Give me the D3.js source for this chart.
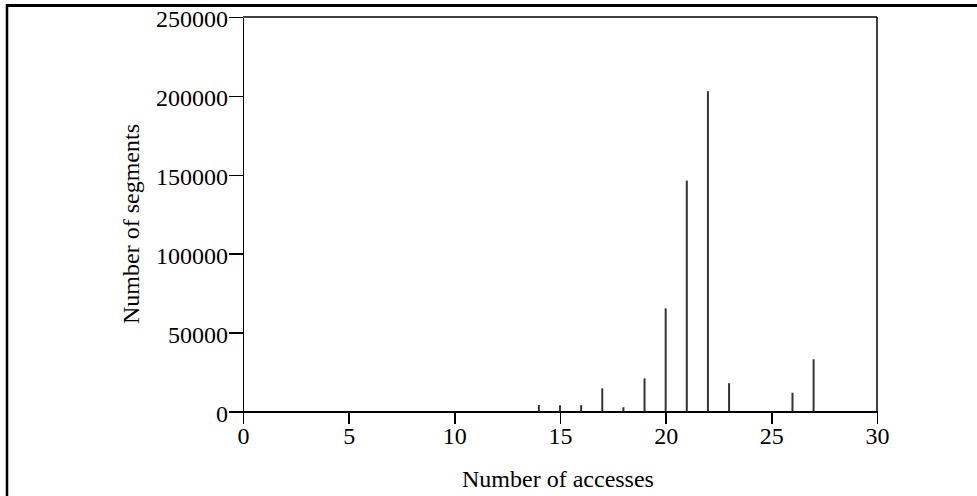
<!DOCTYPE html>
<html>
<head>
<meta charset="utf-8">
<script src="https://cdn.jsdelivr.net/npm/d3@7"></script>
<style>
  body { margin: 0; background: #fff; }
  text { font-family: "Liberation Serif", "Times New Roman", serif; fill: #000; }
  .axis path, .axis line { stroke: #000; stroke-width: 1.5; shape-rendering: crispEdges; }
  .axis text { font-size: 24px; }
  .title { font-size: 24px; }
</style>
</head>
<body>
<div id="graphic"></div>
<script>
// DATA
var accesses = [14, 15, 16, 17, 18, 19, 20, 21, 22, 23, 26, 27];
var segments = [4100, 4000, 4000, 14700, 2700, 21000, 65400, 146300, 202900, 17900, 11900, 33100];
var xTicks = [0, 5, 10, 15, 20, 25, 30];
var yTicks = [0, 50000, 100000, 150000, 200000, 250000];

var data = accesses.map(function (a, i) { return { n: a, count: segments[i] }; });

//SVG margins
var margin = { top: 17, right: 100, bottom: 84.5, left: 243 };
var W = 977, H = 496;
var width = W - margin.left - margin.right,
    height = H - margin.top - margin.bottom;

var root = d3.select("#graphic").append("svg")
    .attr("width", W)
    .attr("height", H);

// outer frame (top + left only)
root.append("line")
    .attr("x1", 6).attr("x2", W)
    .attr("y1", 5.5).attr("y2", 5.5)
    .attr("stroke", "#000").attr("stroke-width", 3);
root.append("line")
    .attr("x1", 7).attr("x2", 7)
    .attr("y1", 4).attr("y2", H)
    .attr("stroke", "#000").attr("stroke-width", 2.5);

var svg = root.append("g")
    .attr("transform", "translate(" + margin.left + "," + margin.top + ")");

// SCALES
var xScale = d3.scaleLinear().domain([0, 30]).range([0, width]);
var yScale = d3.scaleLinear().domain([0, 250000]).range([height, 0]);

// AXIS
svg.append("g")
    .attr("class", "x axis")
    .attr("transform", "translate(0," + height + ")")
    .call(d3.axisBottom(xScale).tickValues(xTicks).tickFormat(d3.format("d"))
        .tickSize(12).tickSizeOuter(0).tickPadding(3))
    .selectAll("text").attr("dy", "0.71em");

svg.append("g")
    .attr("class", "y axis")
    .call(d3.axisLeft(yScale).tickValues(yTicks).tickFormat(d3.format("d"))
        .tickSize(14).tickSizeOuter(0).tickPadding(1))
    .selectAll("text").attr("dy", "0.4em");

// box: top and right
svg.append("line")
    .attr("x1", 0).attr("x2", width).attr("y1", 0).attr("y2", 0)
    .attr("stroke", "#000").attr("stroke-width", 1.5);
svg.append("line")
    .attr("x1", width).attr("x2", width).attr("y1", 0).attr("y2", height)
    .attr("stroke", "#000").attr("stroke-width", 1.5);

// SHOW DATA
svg.selectAll(".bar")
    .data(data)
    .enter()
    .append("line")
    .attr("class", "bar")
    .attr("x1", function (d) { return xScale(d.n); })
    .attr("x2", function (d) { return xScale(d.n); })
    .attr("y1", height)
    .attr("y2", function (d) { return yScale(d.count); })
    .attr("stroke", "#333")
    .attr("stroke-width", 2);

// TITLES
root.append("text")
    .attr("class", "title")
    .attr("x", 558)
    .attr("y", 487)
    .attr("text-anchor", "middle")
    .text("Number of accesses");

root.append("text")
    .attr("class", "title")
    .attr("transform", "translate(139,224) rotate(-90)")
    .attr("text-anchor", "middle")
    .text("Number of segments");
</script>
</body>
</html>
